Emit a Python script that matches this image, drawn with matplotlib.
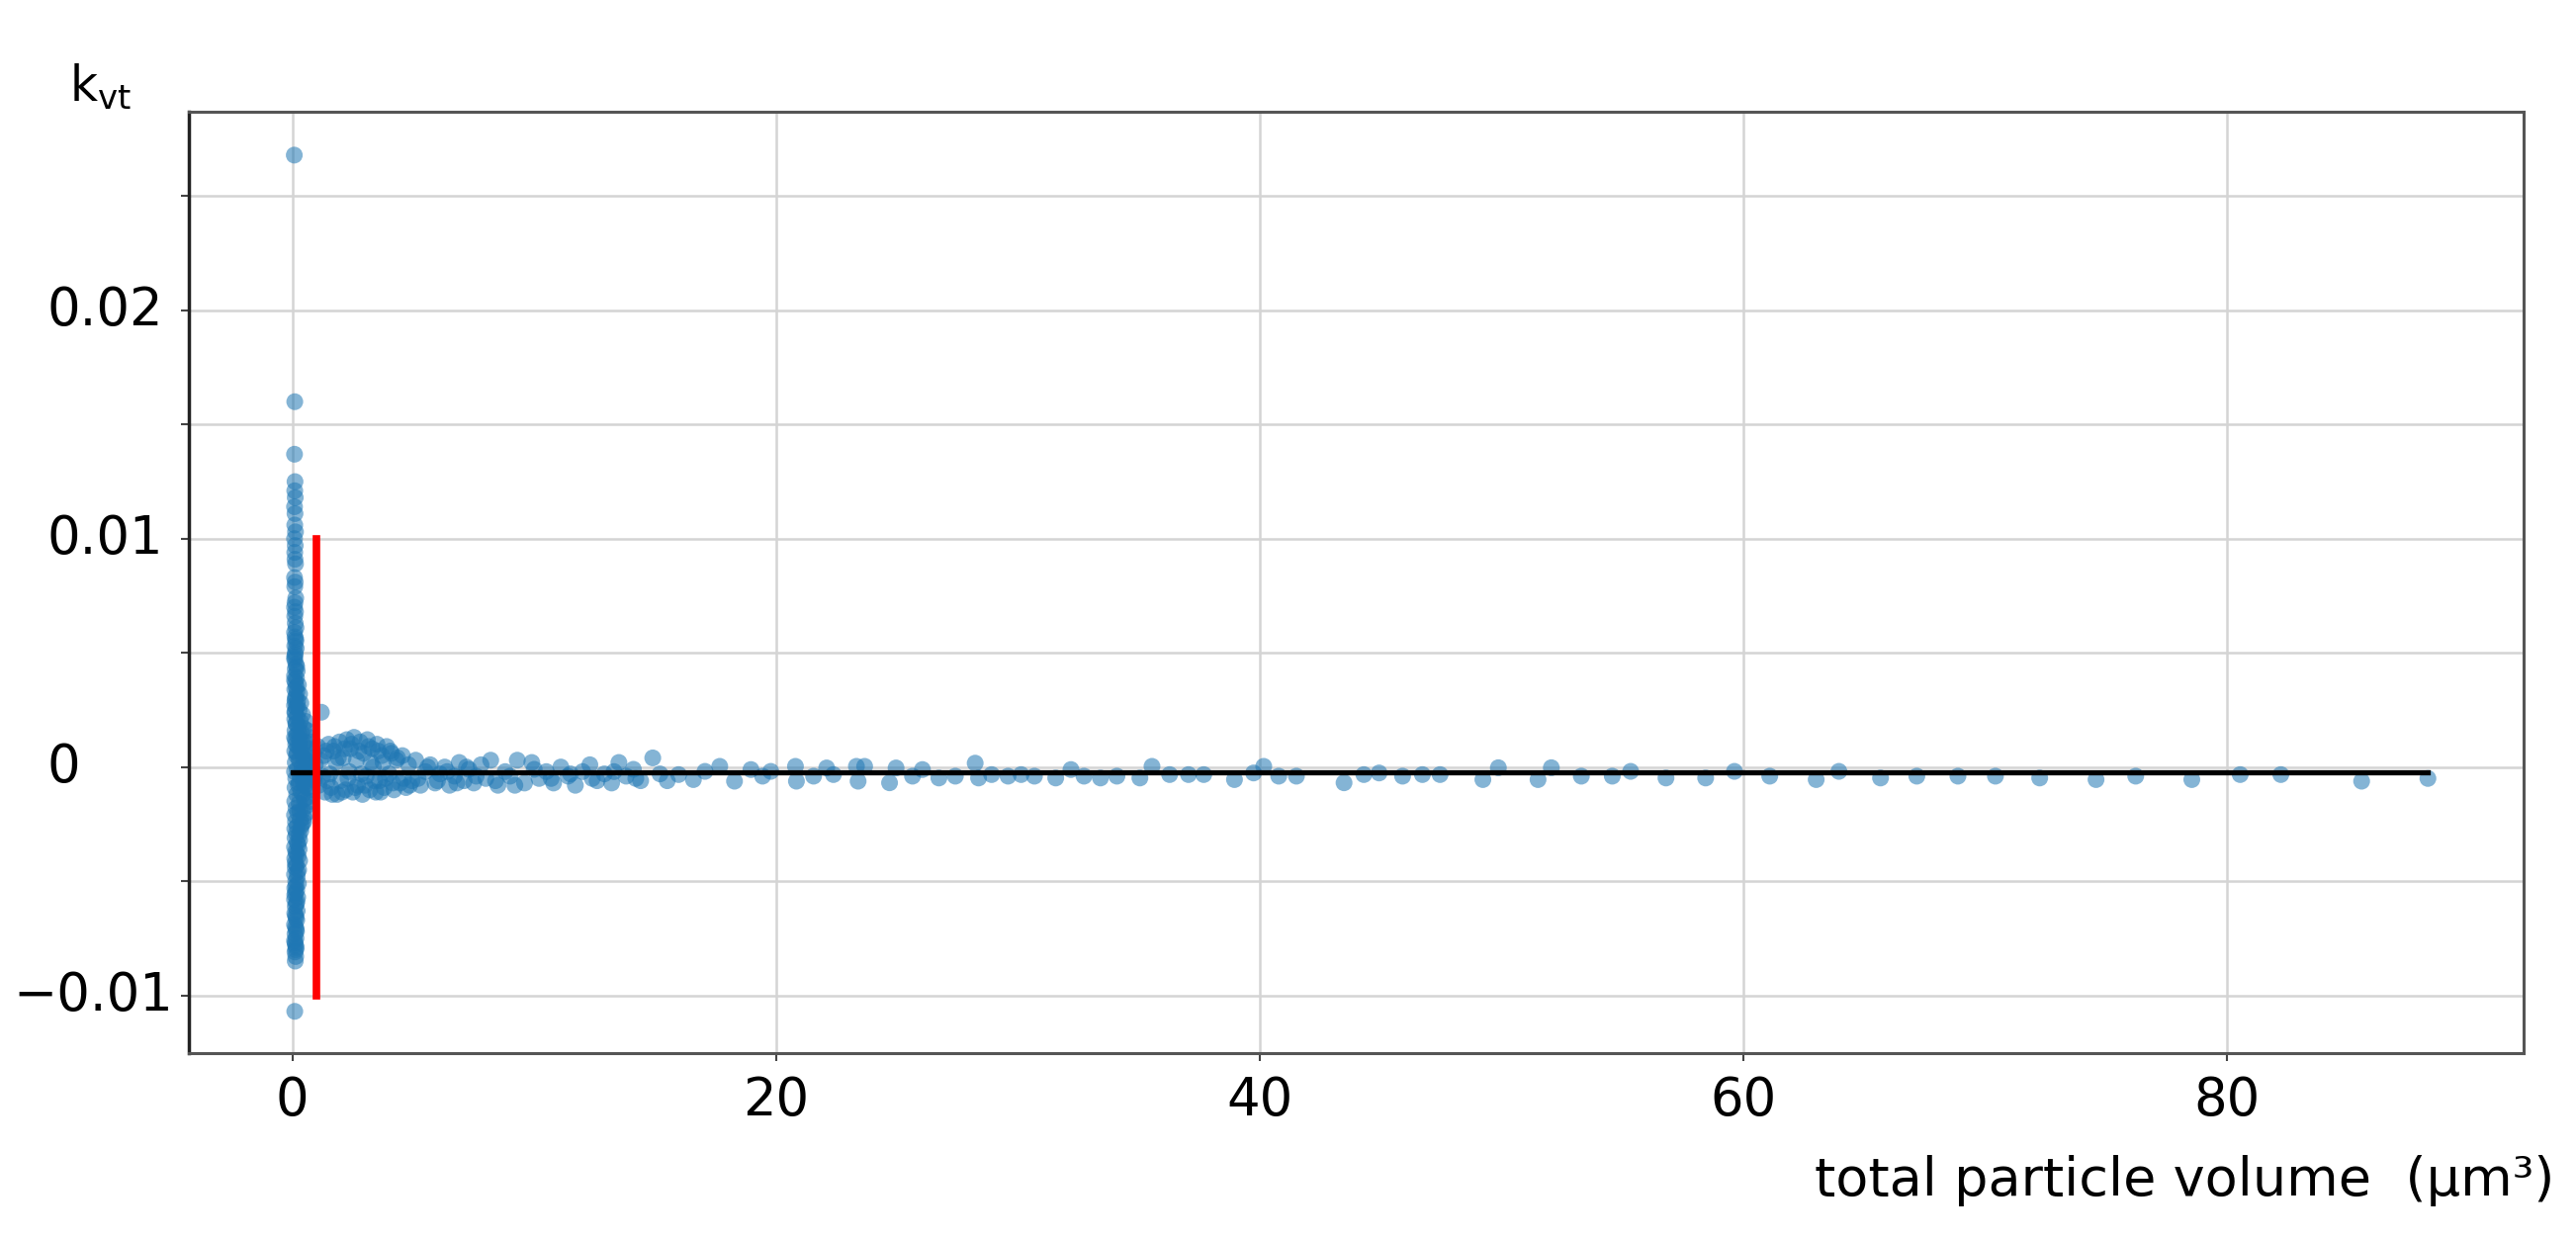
import numpy as np
import matplotlib.pyplot as plt
from matplotlib.ticker import MultipleLocator

# column of small particles (volume close to 0)
col_vol = [0.08, 0.10, 0.09, 0.11, 0.10, 0.12, 0.09, 0.11, 0.10, 0.13, 0.09, 0.12, 0.10, 0.11,
           0.13, 0.09, 0.12, 0.10, 0.14, 0.11, 0.09, 0.13, 0.10, 0.12, 0.15, 0.09, 0.11, 0.14,
           0.10, 0.16, 0.12, 0.09,
           0.10, 0.15, 0.12, 0.20, 0.09, 0.17, 0.13, 0.25, 0.10, 0.19, 0.30, 0.14, 0.11, 0.22,
           0.35, 0.09, 0.16, 0.28, 0.12, 0.42, 0.20, 0.10, 0.33, 0.55, 0.15, 0.25, 0.48, 0.11,
           0.62, 0.38, 0.18, 0.70, 0.09, 0.30, 0.52, 0.80, 0.14, 0.44,
           0.22, 0.66, 0.10, 0.35, 0.88, 0.50, 0.17, 0.75, 0.28, 0.12, 0.60, 0.95, 0.40, 0.20,
           0.82, 0.09, 0.55, 0.32, 0.70, 0.14, 0.90, 0.45, 0.25, 0.62, 0.11, 0.78, 0.36, 0.18,
           0.68, 0.50, 0.10, 0.28, 0.58, 0.15, 0.42, 0.22, 0.09, 0.48, 0.33, 0.13, 0.40, 0.20,
           0.10, 0.35, 0.16, 0.27,
           0.11, 0.30, 0.19, 0.09, 0.28, 0.14, 0.24, 0.10, 0.30, 0.17, 0.12, 0.26, 0.09, 0.20,
           0.14, 0.25, 0.10, 0.18, 0.13,
           0.22, 0.09, 0.16, 0.12, 0.20, 0.10, 0.15, 0.18, 0.09, 0.13, 0.17, 0.11, 0.15, 0.09,
           0.13, 0.16, 0.11, 0.14, 0.12, 0.10,
           # second layer, makes the core darker
           0.14, 0.11, 0.18, 0.09, 0.16, 0.12, 0.21, 0.10, 0.15, 0.26, 0.13, 0.30, 0.19, 0.45,
           0.58, 0.72, 0.38, 0.85, 0.65, 0.27, 0.52, 0.92, 0.43, 0.74, 0.31, 0.60, 0.47, 0.36,
           0.24, 0.17, 0.12, 0.21, 0.15, 0.10, 0.19, 0.13, 0.16, 0.11, 0.14]
col_k = [0.0268, 0.0160, 0.0137, 0.0125, 0.0121, 0.0118, 0.0114, 0.0111, 0.0106, 0.0103,
         0.0100, 0.0097, 0.0094, 0.0091, 0.0089, 0.0083, 0.0081, 0.0079, 0.0074, 0.0072,
         0.0070, 0.0068, 0.0066, 0.0063, 0.0061, 0.0059, 0.0057, 0.0055, 0.0053, 0.0052,
         0.0050, 0.0048,
         0.0047, 0.0045, 0.0043, 0.0042, 0.0040, 0.0039, 0.0037, 0.0036, 0.0034, 0.0033,
         0.0032, 0.0031, 0.0029, 0.0029,
         0.0028, 0.0027, 0.0026, 0.0025, 0.0024, 0.0023, 0.0022, 0.0021, 0.0020, 0.0020,
         0.0019, 0.0018, 0.0017, 0.0016, 0.0016, 0.0015, 0.0014, 0.0013, 0.0013, 0.0012,
         0.0011, 0.0011, 0.0010, 0.0010,
         0.0009, 0.0008, 0.0007, 0.0007, 0.0006, 0.0005, 0.0005, 0.0004, 0.0003, 0.0002,
         0.0002, 0.0001, 0.0000, -0.0001, -0.0001, -0.0002, -0.0003, -0.0004, -0.0005,
         -0.0005, -0.0006, -0.0007, -0.0008, -0.0009, -0.0009, -0.0010, -0.0011, -0.0012,
         -0.0013, -0.0014, -0.0015, -0.0016, -0.0017, -0.0018, -0.0019, -0.0020, -0.0021,
         -0.0022, -0.0023, -0.0024, -0.0025, -0.0026, -0.0027, -0.0028, -0.0029, -0.0030,
         -0.0031, -0.0032, -0.0033, -0.0035, -0.0036, -0.0037, -0.0039, -0.0040, -0.0041,
         -0.0043, -0.0044, -0.0045, -0.0047, -0.0048, -0.0050, -0.0051, -0.0053, -0.0054,
         -0.0055,
         -0.0057, -0.0058, -0.0060, -0.0061, -0.0063, -0.0064, -0.0066, -0.0067, -0.0069,
         -0.0070, -0.0072, -0.0073, -0.0075, -0.0076, -0.0078, -0.0079, -0.0081, -0.0083,
         -0.0085, -0.0107,
         0.0056, 0.0049, 0.0044, 0.0038, 0.0035, 0.0030, 0.0027, 0.0024, 0.0019, 0.0015,
         0.0012, 0.0009, 0.0006, 0.0004, 0.0003, 0.0001, -0.0002, -0.0003, -0.0006,
         -0.0007, -0.0008, -0.0004, -0.0012, -0.0015, -0.0019, -0.0020, -0.0024, -0.0026,
         -0.0034, -0.0038, -0.0042, -0.0046, -0.0052, -0.0056, -0.0059, -0.0065, -0.0071,
         -0.0077, -0.0080]

# fan between 1 and 16 um^3
fan_vol = [1.2, 1.05, 1.1, 1.3, 1.35, 1.5, 1.55, 1.6, 1.7, 1.8, 1.85, 1.95, 2.0, 2.1, 2.2,
           2.25, 2.35, 2.4, 2.5, 2.55, 2.65, 2.7, 2.8, 2.9, 2.95, 3.05, 3.1, 3.2, 3.3, 3.35,
           3.45, 3.5, 3.6, 3.7, 3.8, 3.9, 4.0, 4.1, 4.2, 4.3, 4.45, 4.55, 4.7, 4.8, 4.95,
           1.15, 1.25, 1.4, 1.45, 1.65, 1.75, 1.9, 2.05, 2.15, 2.3, 2.45, 2.6, 2.75, 2.85,
           3.0, 3.15, 3.25, 3.4, 3.55, 3.65, 3.75, 3.85, 4.05, 4.15, 4.35, 4.6, 4.85,
           5.1, 5.3, 5.5, 5.7, 5.9, 6.1, 6.3, 6.5, 6.7, 6.9, 7.1, 7.3, 7.5, 7.8, 8.0, 8.2,
           8.5, 8.8, 9.0, 9.3, 9.6, 9.9, 10.2, 10.5, 10.8, 11.1, 11.4, 11.7, 12.0, 12.3,
           12.6, 12.9, 13.2, 13.5, 13.8, 14.1, 14.4, 14.9, 15.2, 15.5,
           5.2, 5.6, 6.0, 6.4, 6.8, 7.2, 7.6, 8.4, 9.2, 10.0, 10.7, 11.5, 12.4, 13.3, 14.2]
fan_k = [0.0024, 0.0009, -0.0008, 0.0005, -0.0011, 0.0010, -0.0003, -0.0009, 0.0007,
         0.0002, -0.0012, 0.0011, -0.0006, 0.0004, -0.0010, 0.0012, -0.0002, 0.0008,
         -0.0011, 0.0013, 0.0003, -0.0008, 0.0011, -0.0012, 0.0006, -0.0004, 0.0012,
         -0.0010, 0.0008, 0.0000, -0.0011, 0.0010, -0.0006, 0.0005, -0.0009, 0.0009,
         -0.0003, 0.0006, -0.0010, 0.0003, -0.0007, 0.0005, -0.0009, 0.0001, -0.0006,
         0.0003, -0.0004, 0.0007, -0.0006, -0.0012, 0.0009, 0.0004, -0.0011, 0.0008,
         -0.0005, 0.0010, -0.0009, 0.0007, -0.0003, -0.0008, 0.0009, 0.0002, -0.0006,
         0.0007, -0.0011, 0.0002, -0.0005, 0.0007, -0.0007, 0.0004, -0.0005, -0.0008,
         0.0003, -0.0008, -0.0002, 0.0001, -0.0007, -0.0003, 0.0000, -0.0008, -0.0004,
         0.0002, -0.0006, -0.0001, -0.0007, 0.0001, -0.0005, 0.0003, -0.0008, -0.0002,
         -0.0004, 0.0003, -0.0007, 0.0002, -0.0005, -0.0002, -0.0007, 0.0000, -0.0004,
         -0.0008, -0.0002, 0.0001, -0.0006, -0.0003, -0.0007, 0.0002, -0.0004, -0.0001,
         -0.0006, 0.0004, -0.0003, -0.0006,
         -0.0005, 0.0000, -0.0006, -0.0002, -0.0007, 0.0000, -0.0004, -0.0006, -0.0008,
         -0.0001, -0.0005, -0.0003, -0.0005, -0.0002, -0.0005]

# sparse large particles
big_vol = [15.97, 16.58, 17.06, 17.67, 18.28, 18.96, 19.44, 19.78, 20.80, 20.84, 21.55,
           22.09, 22.37, 23.32, 23.39, 23.66, 24.69, 24.96, 25.64, 26.05, 26.73, 27.41,
           28.23, 28.37, 28.91, 29.59, 30.13, 30.68, 31.56, 32.19, 32.73, 33.41, 34.09,
           35.04, 35.54, 36.27, 37.05, 37.68, 38.95, 39.74, 40.16, 40.78, 41.51, 43.48,
           44.30, 44.93, 45.90, 46.72, 47.45, 49.22, 49.86, 51.50, 52.05, 53.29, 54.57,
           55.33, 56.79, 58.43, 59.62, 61.08, 63.00, 63.94, 65.66, 67.16, 68.86, 70.41,
           72.24, 74.57, 76.21, 78.53, 80.53, 82.21, 85.55, 88.29]
big_k = [-0.00033, -0.00055, -0.00019, 0.00003, -0.00062, -0.00011, -0.00040, -0.00019,
         0.00003, -0.00062, -0.00040, -0.00004, -0.00033, 0.00003, -0.00062, 0.00003,
         -0.00069, -0.00004, -0.00040, -0.00011, -0.00048, -0.00040, 0.00017, -0.00048,
         -0.00033, -0.00040, -0.00033, -0.00040, -0.00048, -0.00011, -0.00040, -0.00048,
         -0.00040, -0.00048, 0.00003, -0.00033, -0.00033, -0.00033, -0.00055, -0.00026,
         0.00003, -0.00040, -0.00040, -0.00069, -0.00033, -0.00026, -0.00040, -0.00033,
         -0.00033, -0.00055, -0.00003, -0.00055, -0.00003, -0.00040, -0.00040, -0.00019,
         -0.00048, -0.00048, -0.00019, -0.00040, -0.00055, -0.00019, -0.00048, -0.00040,
         -0.00040, -0.00040, -0.00048, -0.00055, -0.00040, -0.00055, -0.00033, -0.00033,
         -0.00062, -0.00050]

mean_k = -0.00025
threshold_vol = 1.0
threshold_k = [-0.01, 0.01]

yticks = [-0.01, 0.0, 0.01, 0.02]
ytick_labels = ['−0.01', '0', '0.01', '0.02']
xticks = [0, 20, 40, 60, 80]
xtick_labels = ['0', '20', '40', '60', '80']

vol = np.concatenate([col_vol, fan_vol, big_vol])
k = np.concatenate([col_k, fan_k, big_k])

fig = plt.figure(figsize=(26.05, 12.54), dpi=100)
ax = fig.add_axes([0.0733, 0.1507, 0.9063, 0.7592])

ax.scatter(vol, k, s=150, color='#1f77b4', alpha=0.55, edgecolors='none', zorder=3)
ax.plot([0, vol.max()], [mean_k, mean_k], color='black', lw=3.8, zorder=4)
ax.plot([threshold_vol, threshold_vol], threshold_k, color='red', lw=5.5, zorder=5)

ax.set_xlim(-4.28, 92.24)
ax.set_ylim(-0.01253, 0.0287)
ax.set_xticks(xticks, xtick_labels)
ax.set_yticks(yticks)
ax.yaxis.set_minor_locator(MultipleLocator(0.005))
ax.grid(True, which='major', axis='x', color='#d4d4d4', lw=1.8)
ax.grid(True, which='both', axis='y', color='#d4d4d4', lw=1.8)
ax.set_axisbelow(True)

ax.tick_params(axis='x', labelsize=38, length=6, width=1.5, pad=10, color='#444444')
ax.tick_params(axis='y', which='both', length=6, width=1.5, color='#444444', labelleft=False)

# y tick labels are left aligned in the original
for v, lab in zip(yticks, ytick_labels):
    xpos = -0.0754 if lab.startswith('−') else -0.0606
    ax.text(xpos, v, lab, transform=ax.get_yaxis_transform(), ha='left', va='center',
            fontsize=38, clip_on=False)

for side in ['top', 'right', 'bottom']:
    ax.spines[side].set_color('#555555')
    ax.spines[side].set_linewidth(2.2)
ax.spines['left'].set_color('#222222')
ax.spines['left'].set_linewidth(2.5)

fig.text(0.0269, 0.918, r'k$_{\mathrm{vt}}$', fontsize=35, ha='left', va='baseline')
fig.text(0.9916, 0.0359, 'total particle volume  (μm³)', fontsize=39,
         ha='right', va='baseline')

fig.savefig('out.png', dpi=100)
